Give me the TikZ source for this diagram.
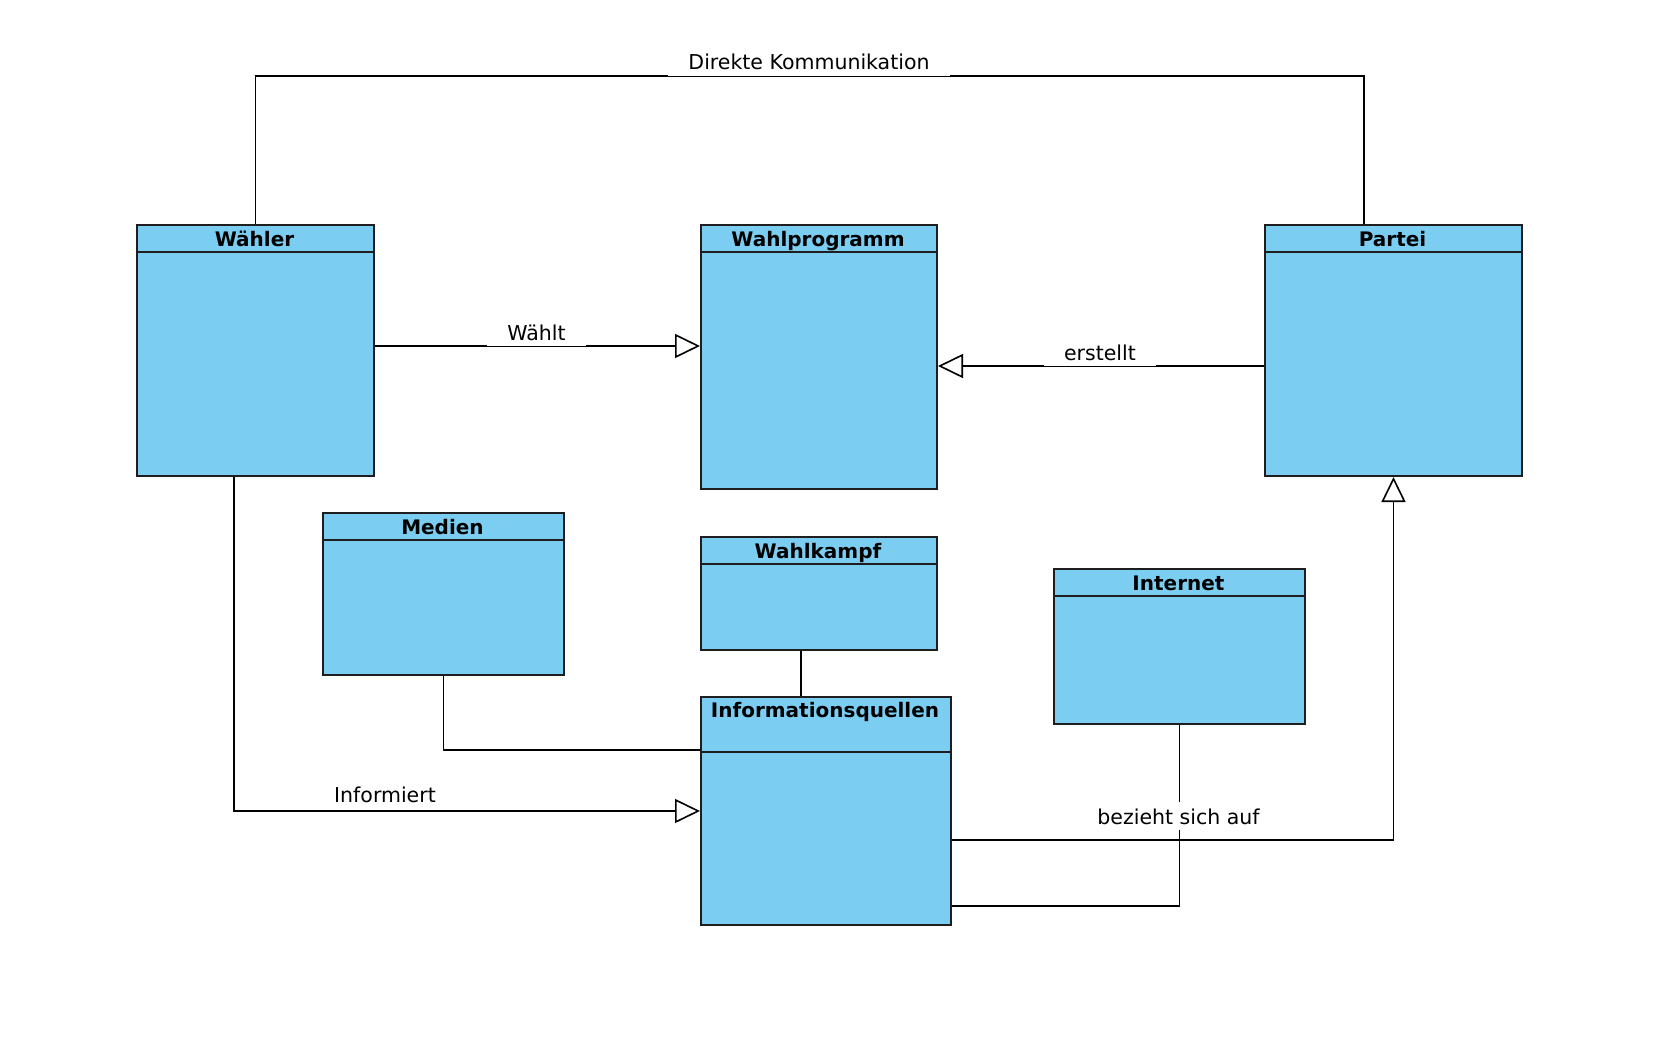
\documentclass[tikz,border=0pt]{standalone}
\usepackage{fontspec}
\setmainfont{DejaVu Sans}
\usetikzlibrary{arrows.meta}
\definecolor{boxblue}{RGB}{123,206,242}
\definecolor{linec}{RGB}{30,30,30}
\tikzset{
  classbox/.style={draw=linec, line width=2pt, fill=boxblue, rectangle, anchor=north west, inner sep=0pt},
  divider/.style={draw=linec, line width=2pt},
  ctitle/.style={font=\fontsize{20pt}{24pt}\selectfont\bfseries, anchor=base, inner sep=0pt},
  conn/.style={draw=black, line width=1.8pt},
  gen/.style={conn, -{Triangle[fill=white, length=25pt, width=24pt, line width=1.6pt]}},
  lbl/.style={font=\fontsize{20.5pt}{24pt}\selectfont, fill=white, inner xsep=20pt, inner ysep=6pt, text depth=0pt, anchor=base},
  plainlbl/.style={font=\fontsize{20.5pt}{24pt}\selectfont, inner sep=0pt, anchor=base}
}
\begin{document}
\begin{tikzpicture}[x=1pt, y=-1pt]
\useasboundingbox[fill=white] (0,0) rectangle (1676,1062);

% classes
\node[classbox, minimum width=237pt, minimum height=251pt] (wahler) at (136,224) {};
\draw[divider] (wahler.west |- 0,252) -- (wahler.east |- 0,252);
\node[ctitle] (twahler) at (254.5,246) {Wähler};

\node[classbox, minimum width=236pt, minimum height=264pt] (wprog) at (700,224) {};
\draw[divider] (wprog.west |- 0,252) -- (wprog.east |- 0,252);
\node[ctitle] (twprog) at (818,246) {Wahlprogramm};

\node[classbox, minimum width=257pt, minimum height=251pt] (partei) at (1264,224) {};
\draw[divider] (partei.west |- 0,252) -- (partei.east |- 0,252);
\node[ctitle] (tpartei) at (1392.5,246) {Partei};

\node[classbox, minimum width=241pt, minimum height=162pt] (medien) at (322,512) {};
\draw[divider] (medien.west |- 0,540) -- (medien.east |- 0,540);
\node[ctitle] (tmedien) at (442.5,534) {Medien};

\node[classbox, minimum width=236pt, minimum height=113pt] (wkampf) at (700,536) {};
\draw[divider] (wkampf.west |- 0,564) -- (wkampf.east |- 0,564);
\node[ctitle] (twkampf) at (818,558) {Wahlkampf};

\node[classbox, minimum width=251pt, minimum height=155pt] (internet) at (1053,568) {};
\draw[divider] (internet.west |- 0,596) -- (internet.east |- 0,596);
\node[ctitle] (tinternet) at (1178.5,590) {Internet};

\node[classbox, minimum width=250pt, minimum height=228pt] (info) at (700,696) {};
\draw[divider] (info.west |- 0,752) -- (info.east |- 0,752);
\node[ctitle] (tinfo) at (825,717) {Informationsquellen};

% connectors
\coordinate (topR) at (1364,76);
\draw[conn] (wahler.north) |- (topR) -- (partei.north -| topR);
\draw[gen] (wahler.east |- 0,346) -- (wprog.west |- 0,346);
\draw[gen] (partei.west |- 0,366) -- (wprog.east |- 0,366);
\draw[gen] (wahler.south -| 234,0) |- (info.west);
\draw[conn] (medien.south) |- (info.west |- 0,750);
\draw[conn] (wkampf.south -| 801,0) -- (info.north -| 801,0);
\draw[gen] (info.east |- 0,840) -| (partei.south);
\draw[conn] (internet.south) |- (info.east |- 0,906);

% labels
\node[lbl] (ldirekt) at (809,70) {Direkte Kommunikation};
\node[lbl] (lwaehlt) at (536.5,340) {Wählt};
\node[lbl] (lerstellt) at (1100,360) {erstellt};
\node[plainlbl] (linform) at (385,802) {Informiert};
\node[lbl, inner xsep=4pt] (lbezieht) at (1178.5,824) {bezieht sich auf};
\end{tikzpicture}
\end{document}
